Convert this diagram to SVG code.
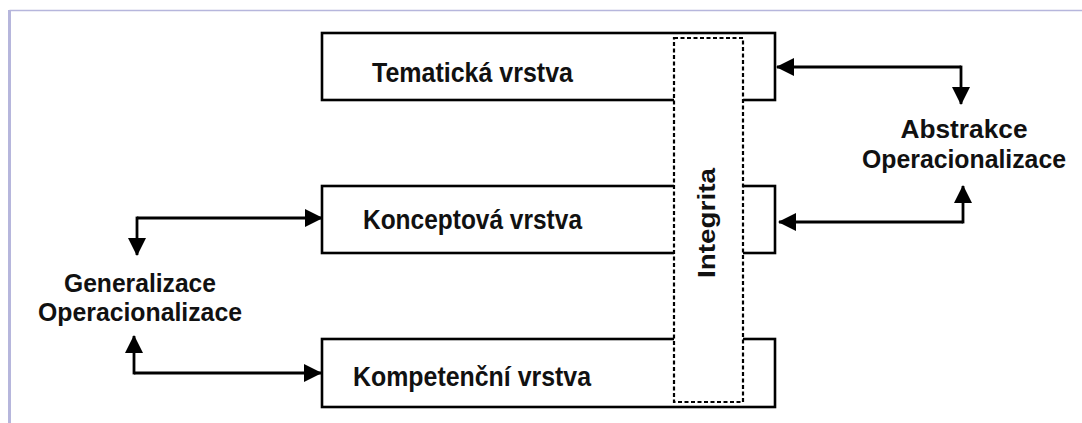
<svg xmlns="http://www.w3.org/2000/svg" width="1082" height="423" viewBox="0 0 1082 423">
  <defs>
    <marker id="arrow" viewBox="0 0 18 18" refX="17" refY="9" markerWidth="18" markerHeight="18" markerUnits="userSpaceOnUse" orient="auto">
      <path d="M0,0 L18,9 L0,18 Z" fill="#000"/>
    </marker>
    <style>
      .frame { stroke: #b6b6dc; fill: none; }
      .layer { fill: #fff; stroke: #000; stroke-width: 2.6; }
      .integ { fill: #fff; stroke: #000; stroke-width: 2.2; stroke-dasharray: 4 2.5; }
      .lbl { font-family: "Liberation Sans", Arial, sans-serif; font-weight: bold; font-size: 28px; fill: #111; }
      .side { font-family: "Liberation Sans", Arial, sans-serif; font-weight: bold; font-size: 25px; fill: #111; text-anchor: middle; }
      .vert { font-family: "Liberation Sans", Arial, sans-serif; font-weight: bold; font-size: 23px; fill: #111; text-anchor: middle; }
      .conn { fill: none; stroke: #000; stroke-width: 2.8; marker-end: url(#arrow); }
    </style>
  </defs>

  <rect width="1082" height="423" fill="#fff"/>

  <!-- page frame -->
  <line class="frame" x1="9.5" y1="10.5" x2="1082" y2="10.5" stroke-width="1.5"/>
  <line class="frame" x1="9.5" y1="10" x2="9.5" y2="423" stroke-width="3"/>

  <!-- layers -->
  <g id="tematicka">
    <rect class="layer" x="322" y="33" width="453" height="67"/>
    <text class="lbl" x="372" y="82" textLength="201" lengthAdjust="spacingAndGlyphs">Tematická vrstva</text>
  </g>
  <g id="konceptova">
    <rect class="layer" x="322" y="186" width="453" height="67"/>
    <text class="lbl" x="363" y="229" textLength="219" lengthAdjust="spacingAndGlyphs">Konceptová vrstva</text>
  </g>
  <g id="kompetencni">
    <rect class="layer" x="322" y="339" width="453" height="68"/>
    <text class="lbl" x="353" y="386" textLength="238" lengthAdjust="spacingAndGlyphs">Kompetenční vrstva</text>
  </g>

  <!-- integrity band across all layers -->
  <g id="integrita">
    <rect class="integ" x="674" y="38" width="69" height="364"/>
    <text class="vert" transform="translate(715,223) rotate(-90)" x="0" y="0" textLength="110" lengthAdjust="spacingAndGlyphs">Integrita</text>
  </g>

  <!-- side labels -->
  <g id="generalizace">
    <text class="side" x="140" y="292" textLength="152" lengthAdjust="spacingAndGlyphs">Generalizace</text>
    <text class="side" x="140" y="321" textLength="204" lengthAdjust="spacingAndGlyphs">Operacionalizace</text>
  </g>
  <g id="abstrakce">
    <text class="side" x="964" y="138" textLength="127" lengthAdjust="spacingAndGlyphs">Abstrakce</text>
    <text class="side" x="964" y="168" textLength="204" lengthAdjust="spacingAndGlyphs">Operacionalizace</text>
  </g>

  <!-- connectors -->
  <g id="connectors">
    <path class="conn" d="M137,218 L322,218"/>
    <path class="conn" d="M137,216.6 L137,255"/>
    <path class="conn" d="M134,373 L321,373"/>
    <path class="conn" d="M134,374.4 L134,336"/>
    <path class="conn" d="M961,67 L777,67"/>
    <path class="conn" d="M961,65.6 L961,104"/>
    <path class="conn" d="M963,222 L779,222"/>
    <path class="conn" d="M963,223.4 L963,186"/>
  </g>
</svg>
